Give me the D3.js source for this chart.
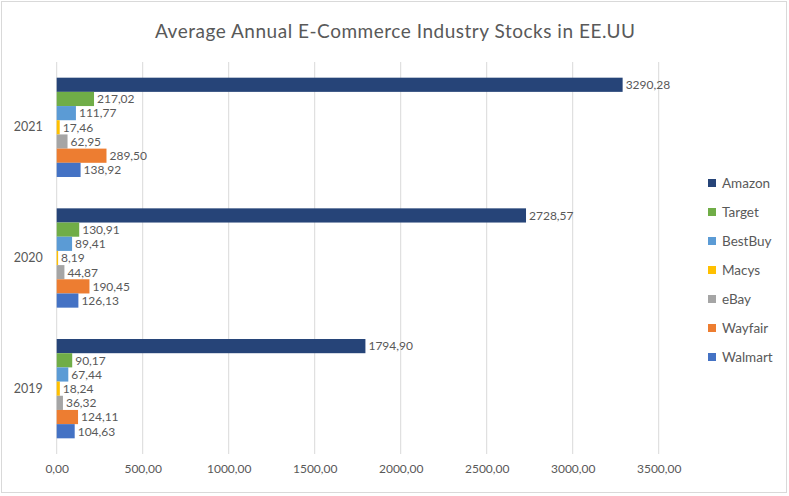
<!DOCTYPE html>
<html>
<head>
<meta charset="utf-8">
<script src="https://cdn.jsdelivr.net/npm/d3@7"></script>
<style>
  body { margin: 0; background: #fff; }
  text { font-family: Lato, "Open Sans", sans-serif; fill: #595959; }
</style>
</head>
<body>
<svg id="chart" width="789" height="496"></svg>
<script>
// data
var years = ['2021', '2020', '2019'];
var companies = ['Amazon', 'Target', 'BestBuy', 'Macys', 'eBay', 'Wayfair', 'Walmart'];
var amazon  = [3290.28, 2728.57, 1794.90];
var target  = [217.02, 130.91, 90.17];
var bestbuy = [111.77, 89.41, 67.44];
var macys   = [17.46, 8.19, 18.24];
var ebay    = [62.95, 44.87, 36.32];
var wayfair = [289.50, 190.45, 124.11];
var walmart = [138.92, 126.13, 104.63];
var xTicks = [0, 500, 1000, 1500, 2000, 2500, 3000, 3500];

var series = [amazon, target, bestbuy, macys, ebay, wayfair, walmart];
var colors = ['#264478', '#70ad47', '#5b9bd5', '#ffc000', '#a5a5a5', '#ed7d31', '#4472c4'];

var fmt = function(v) { return d3.format('.2f')(v).replace('.', ','); };

var svg = d3.select('#chart');

// outer border
svg.append('rect')
    .attr('x', 1.5).attr('y', 1.5)
    .attr('width', 785).attr('height', 491)
    .attr('fill', '#fff')
    .attr('stroke', '#d9d9d9');

var plot = {left: 56.7, top: 62, bottom: 454};

var x = d3.scaleLinear().domain([0, 3500]).range([plot.left, plot.left + 602]);
var y = d3.scaleBand().domain(years).range([plot.top, plot.bottom]).paddingInner(0.24).paddingOuter(0.12);
var ySub = d3.scaleBand().domain(companies).range([0, y.bandwidth()]);

// title
svg.append('text')
    .attr('x', 395).attr('y', 38)
    .attr('text-anchor', 'middle')
    .attr('textLength', 480)
    .attr('lengthAdjust', 'spacing')
    .style('font-size', '19px')
    .text('Average Annual E-Commerce Industry Stocks in EE.UU');

// gridlines
svg.append('g').selectAll('line')
    .data(xTicks)
    .enter().append('line')
    .attr('x1', d => x(d)).attr('x2', d => x(d))
    .attr('y1', plot.top).attr('y2', plot.bottom)
    .attr('stroke', '#d9d9d9')
    .attr('stroke-width', 1);

// x axis labels
var xAxis = svg.append('g')
    .attr('transform', 'translate(0,' + plot.bottom + ')')
    .call(d3.axisBottom(x).tickValues(xTicks).tickFormat(fmt).tickSize(0).tickPadding(10));
xAxis.select('.domain').remove();
xAxis.selectAll('text').style('font-size', '12px').attr('fill', '#595959').style('font-family', 'Lato, sans-serif');

// y axis labels
var yAxis = svg.append('g')
    .attr('transform', 'translate(' + plot.left + ',0)')
    .call(d3.axisLeft(y).tickSize(0).tickPadding(14));
yAxis.select('.domain').remove();
yAxis.selectAll('text').style('font-size', '12.5px').attr('fill', '#595959').style('font-family', 'Lato, sans-serif');

// bars
var groups = svg.append('g').selectAll('g')
    .data(years)
    .enter().append('g')
    .attr('transform', d => 'translate(0,' + y(d) + ')');

groups.each(function(year, yi) {
    var g = d3.select(this);
    var rows = companies.map((c, ci) => ({company: c, value: series[ci][yi], color: colors[ci]}));

    g.selectAll('rect')
        .data(rows)
        .enter().append('rect')
        .attr('x', x(0))
        .attr('y', d => ySub(d.company))
        .attr('width', d => x(d.value) - x(0))
        .attr('height', ySub.bandwidth())
        .attr('fill', d => d.color);

    g.selectAll('text')
        .data(rows)
        .enter().append('text')
        .attr('x', d => x(d.value) + 3)
        .attr('y', d => ySub(d.company) + ySub.bandwidth() / 2)
        .attr('dy', '0.36em')
        .style('font-size', '12px')
        .text(d => fmt(d.value));
});

// legend
var legend = svg.append('g').selectAll('g')
    .data(companies)
    .enter().append('g')
    .attr('transform', (d, i) => 'translate(708,' + (183 + i * 29) + ')');

legend.append('rect')
    .attr('x', 0).attr('y', -4)
    .attr('width', 8).attr('height', 8)
    .attr('fill', (d, i) => colors[i]);

legend.append('text')
    .attr('x', 14).attr('y', 0)
    .attr('dy', '0.36em')
    .style('font-size', '13.5px')
    .text(d => d);
</script>
</body>
</html>
